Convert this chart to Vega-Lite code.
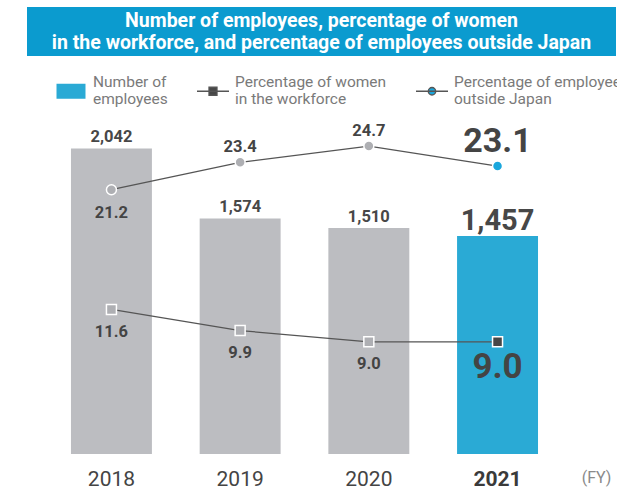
{
  "$schema": "https://vega.github.io/schema/vega-lite/v6.json",
  "background": "white",
  "padding": {"left": 27, "top": 7, "right": 0, "bottom": 0},
  "bounds": "flush",
  "spacing": 24,
  "config": {"view": {"stroke": null}, "font": "Roboto", "axis": {"grid": false}},
  "vconcat": [
    {
      "width": 589,
      "height": 49,
      "view": {"fill": "#0b9bcf", "stroke": null},
      "data": {"values": [{}]},
      "mark": {"type": "text", "color": "white", "font": "Roboto", "fontWeight": "bold", "fontSize": 19.5, "lineHeight": 22.5, "baseline": "middle", "align": "center", "dy": -10.7},
      "encoding": {"text": {"value": ["Number of employees, percentage of women", "in the workforce, and percentage of employees outside Japan"]}}
    },
    {
      "width": 535,
      "height": 374,
      "data": {"values": [
        {"year": "2018", "measure": "Number of employees", "value": 2042},
        {"year": "2019", "measure": "Number of employees", "value": 1574},
        {"year": "2020", "measure": "Number of employees", "value": 1510},
        {"year": "2021", "measure": "Number of employees", "value": 1457},
        {"year": "2018", "measure": "Percentage of women in the workforce", "value": 11.6},
        {"year": "2019", "measure": "Percentage of women in the workforce", "value": 9.9},
        {"year": "2020", "measure": "Percentage of women in the workforce", "value": 9.0},
        {"year": "2021", "measure": "Percentage of women in the workforce", "value": 9.0},
        {"year": "2018", "measure": "Percentage of employees outside Japan", "value": 21.2},
        {"year": "2019", "measure": "Percentage of employees outside Japan", "value": 23.4},
        {"year": "2020", "measure": "Percentage of employees outside Japan", "value": 24.7},
        {"year": "2021", "measure": "Percentage of employees outside Japan", "value": 23.1}
      ]},
      "encoding": {
        "x": {
          "field": "year", "type": "ordinal",
          "scale": {"type": "band", "paddingInner": 0.371, "paddingOuter": 0.264, "align": 0.647},
          "axis": {
            "title": "(FY)", "titleX": 569, "titleY": 23, "titleAlign": "center", "titleBaseline": "middle",
            "titleFont": "Roboto", "titleFontSize": 16, "titleFontWeight": "normal", "titleColor": "#8a8a8a",
            "labelFont": "Roboto", "labelFontSize": 21, "labelColor": {"condition": {"test": "datum.value == '2021'", "value": "#3a3a3a"}, "value": "#444444"},
            "labelFontWeight": {"condition": {"test": "datum.value == '2021'", "value": "bold"}, "value": "normal"},
            "labelPadding": 14, "ticks": false, "domain": false, "labelAngle": 0
          }
        }
      },
      "layer": [
        {
          "transform": [{"filter": "datum.measure == 'Number of employees'"}],
          "mark": {"type": "bar"},
          "encoding": {
            "y": {"field": "value", "type": "quantitative", "scale": {"domain": [0, 2500], "nice": false}, "axis": null},
            "color": {
              "condition": {"test": "datum.year != '2021'", "value": "#bcbdc1"},
              "field": "measure", "type": "nominal",
              "scale": {
                "domain": ["Number of employees", "Percentage of women in the workforce", "Percentage of employees outside Japan"],
                "range": ["#2aaad5", "#474747", "#1aa7dd"]
              },
              "legend": {
                "orient": "none", "legendX": 27, "legendY": 67, "direction": "horizontal", "title": null,
                "padding": 0, "symbolSize": 1024, "labelFont": "Roboto", "labelFontSize": 15.5, "labelColor": "#7a7a7a",
                "labelOffset": 5, "columnPadding": 26, "labelLimit": 400, "labelBaseline": "middle",
                "labelExpr": "datum.value == 'Number of employees' ? ['Number of', 'employees'] : datum.value == 'Percentage of women in the workforce' ? ['Percentage of women', 'in the workforce'] : ['Percentage of employees', 'outside Japan']",
                "encode": {
                  "labels": {
                    "update": {"dy": {"value": -9.5}}
                  },
                  "symbols": {
                    "update": {
                      "shape": {"signal": "datum.value == 'Number of employees' ? 'M-0.906,-0.469H0.906V0.469H-0.906Z' : datum.value == 'Percentage of women in the workforce' ? 'M-1,0H1M-0.25,-0.25H0.25V0.25H-0.25Z' : 'M-1,0H1M0.234,0A0.234,0.234,0,1,1,-0.234,0A0.234,0.234,0,1,1,0.234,0Z'"},
                      "stroke": {"signal": "datum.value == 'Number of employees' ? 'transparent' : '#555555'"},
                      "strokeWidth": {"value": 1.3}
                    }
                  }
                }
              }
            }
          }
        },
        {
          "transform": [{"filter": "datum.measure == 'Number of employees'"}],
          "mark": {
            "type": "text", "font": "Roboto", "fontWeight": "bold", "baseline": "alphabetic", "align": "center", "dy": -6.5,
            "fontSize": {"expr": "datum.year == '2021' ? 29 : 16.5"}
          },
          "encoding": {
            "y": {"field": "value", "type": "quantitative", "scale": {"domain": [0, 2500], "nice": false}, "axis": null},
            "text": {"field": "value", "type": "quantitative", "format": ","},
            "color": {"value": "#474747"}
          }
        },
        {
          "transform": [{"filter": "datum.measure != 'Number of employees'"}],
          "mark": {"type": "line", "color": "#555555", "strokeWidth": 1.3},
          "encoding": {
            "y": {"field": "value", "type": "quantitative", "scale": {"domain": [0, 30], "nice": false}, "axis": null},
            "detail": {"field": "measure", "type": "nominal"}
          }
        },
        {
          "transform": [{"filter": "datum.measure != 'Number of employees'"}],
          "mark": {"type": "point", "filled": true, "size": 100, "stroke": "white", "strokeWidth": 1.5, "opacity": 1},
          "encoding": {
            "y": {"field": "value", "type": "quantitative", "scale": {"domain": [0, 30], "nice": false}, "axis": null},
            "shape": {"field": "measure", "type": "nominal", "scale": {"domain": ["Percentage of women in the workforce", "Percentage of employees outside Japan"], "range": ["square", "circle"]}, "legend": null},
            "color": {"condition": {"test": "datum.year != '2021'", "value": "#aeafb3"}, "field": "measure", "type": "nominal"}
          }
        },
        {
          "transform": [{"filter": "datum.measure != 'Number of employees'"}],
          "mark": {
            "type": "text", "font": "Roboto", "fontWeight": "bold", "baseline": "alphabetic", "align": "center",
            "fontSize": {"expr": "datum.year == '2021' ? (datum.measure == 'Percentage of women in the workforce' ? 35 : 34) : 16.5"},
            "dy": {"expr": "datum.measure == 'Percentage of women in the workforce' ? (datum.year == '2021' ? 36 : 27.5) : (datum.year == '2021' ? -14 : (datum.year == '2018' ? 28 : -10))"}
          },
          "encoding": {
            "y": {"field": "value", "type": "quantitative", "scale": {"domain": [0, 30], "nice": false}, "axis": null},
            "text": {"field": "value", "type": "quantitative", "format": ".1f"},
            "color": {"value": "#444444"}
          }
        }
      ],
      "resolve": {"scale": {"y": "independent"}}
    }
  ]
}
